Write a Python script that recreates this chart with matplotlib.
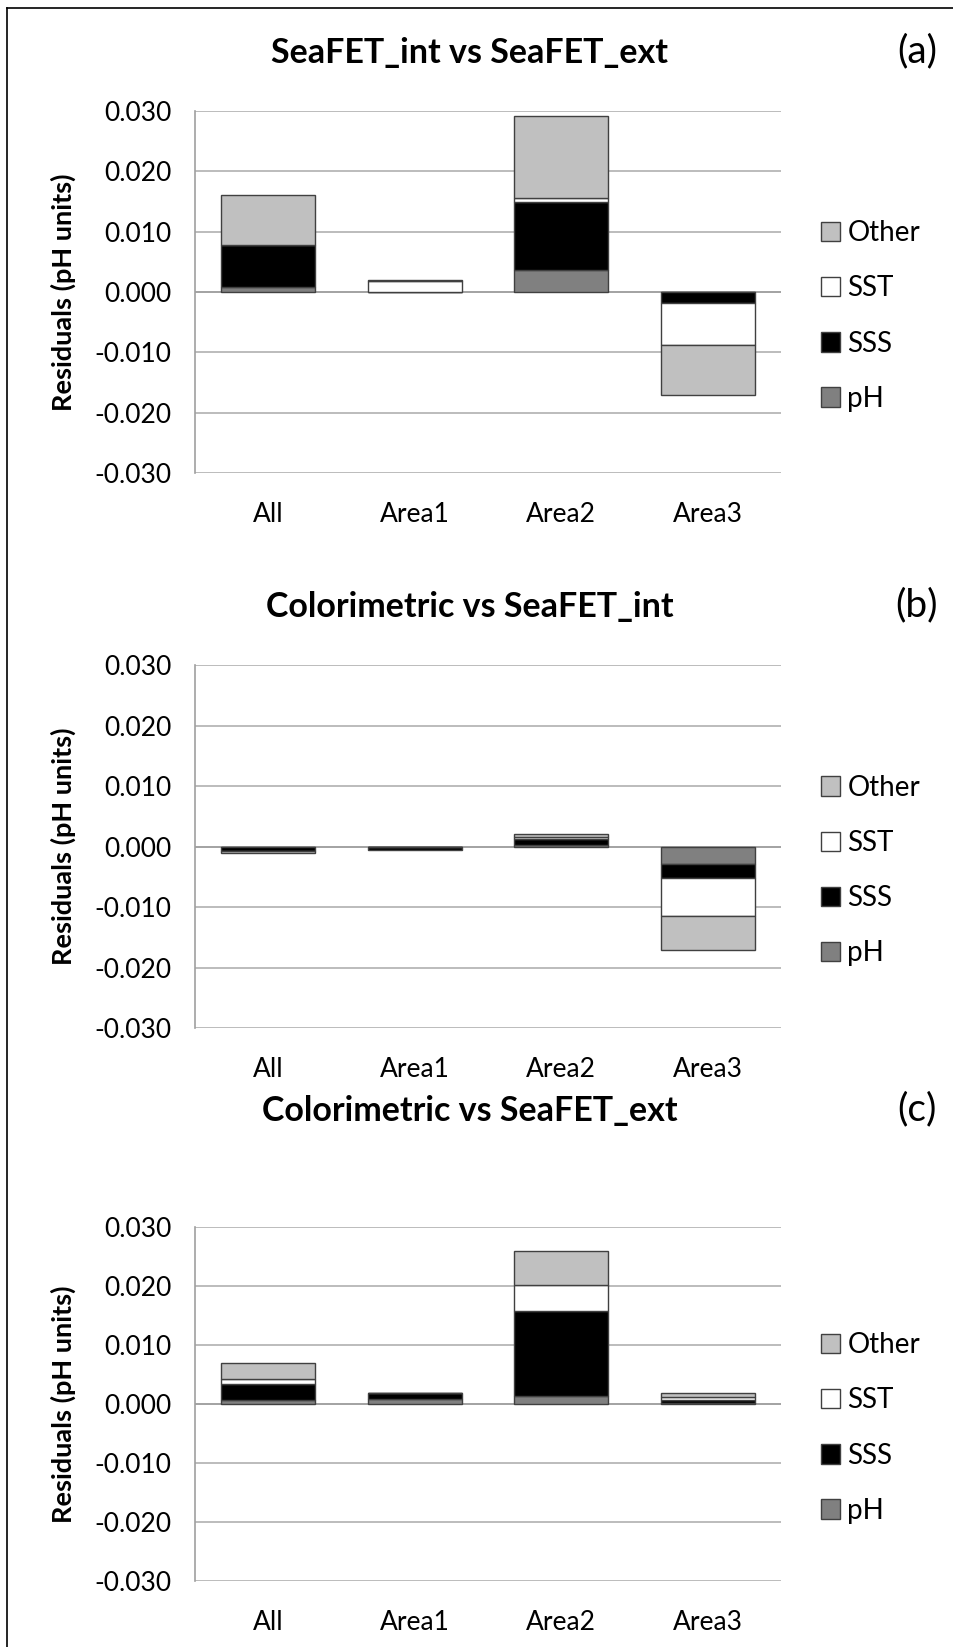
import numpy as np
import matplotlib
matplotlib.use("Agg")
import matplotlib.pyplot as plt
from matplotlib.patches import Patch
from matplotlib.lines import Line2D

plt.rcParams['font.family'] = ['Lato', 'DejaVu Sans']

categorias = ["All", "Area1", "Area2", "Area3"]
series = ["pH", "SSS", "SST", "Other"]
colores = {"pH": "#808080", "SSS": "#000000", "SST": "#ffffff", "Other": "#c0c0c0"}

titulos = ["SeaFET_int vs SeaFET_ext", "Colorimetric vs SeaFET_int", "Colorimetric vs SeaFET_ext"]
etiquetas = ["(a)", "(b)", "(c)"]

# panel (a)
a_pH = [0.0008, 0.0000, 0.0037, 0.0000]
a_SSS = [0.0069, 0.0000, 0.0112, -0.0019]
a_SST = [0.0000, 0.0019, 0.0006, -0.0068]
a_Other = [0.0084, 0.0001, 0.0137, -0.0084]

# panel (b)
b_pH = [-0.0001, -0.0001, 0.0002, -0.0029]
b_SSS = [-0.0006, -0.0004, 0.0011, -0.0022]
b_SST = [-0.0001, 0.0000, 0.0003, -0.0063]
b_Other = [-0.0003, 0.0000, 0.0005, -0.0056]

# panel (c)
c_pH = [0.0007, 0.0008, 0.0013, 0.0001]
c_SSS = [0.0027, 0.0011, 0.0145, 0.0005]
c_SST = [0.0009, 0.0000, 0.0044, 0.0005]
c_Other = [0.0026, 0.0000, 0.0057, 0.0008]

datos = [
    {"pH": a_pH, "SSS": a_SSS, "SST": a_SST, "Other": a_Other},
    {"pH": b_pH, "SSS": b_SSS, "SST": b_SST, "Other": b_Other},
    {"pH": c_pH, "SSS": c_SSS, "SST": c_SST, "Other": c_Other},
]

W, H = 954, 1647
fig = plt.figure(figsize=(W / 100, H / 100), dpi=100)

# marco (solo izquierda y arriba)
fig.add_artist(Line2D([7 / W, 7 / W], [0, 1 - 8 / H], transform=fig.transFigure, color='black', lw=1.2))
fig.add_artist(Line2D([7 / W, 1], [1 - 8 / H, 1 - 8 / H], transform=fig.transFigure, color='black', lw=1.2))

# posiciones en pixeles: (arriba, abajo)
paneles = [(110.7, 473.3), (665, 1028.3), (1226.7, 1581.3)]
titulo_y = [53, 607, 1111]
x0, x1 = 195, 781

for i, (top, bot) in enumerate(paneles):
    ax = fig.add_axes([x0 / W, 1 - bot / H, (x1 - x0) / W, (bot - top) / H])
    x = np.arange(len(categorias))
    pos = np.zeros(len(categorias))
    neg = np.zeros(len(categorias))
    for s in series:
        v = np.array(datos[i][s])
        base = np.where(v >= 0, pos, neg)
        ax.bar(x, v, bottom=base, width=0.64, color=colores[s], edgecolor='#404040',
               linewidth=1.0, zorder=3)
        pos = pos + np.where(v > 0, v, 0)
        neg = neg + np.where(v < 0, v, 0)

    ax.set_xlim(-0.5, 3.5)
    ax.set_ylim(-0.03, 0.03)
    ax.set_yticks(np.arange(-0.03, 0.031, 0.01))
    ax.set_yticklabels([f"{t:.3f}" for t in np.arange(-0.03, 0.031, 0.01)])
    ax.grid(axis='y', color='#b0b0b0', lw=1.2, zorder=0)
    ax.axhline(0, color='#a0a0a0', lw=1.2, zorder=2)
    for sp in ['top', 'right', 'bottom']:
        ax.spines[sp].set_visible(False)
    ax.spines['left'].set_color('#a0a0a0')
    ax.spines['left'].set_linewidth(1.2)
    ax.set_xticks(x)
    ax.set_xticklabels(categorias)
    ax.tick_params(axis='both', length=0, labelsize=19, colors='black')
    ax.tick_params(axis='y', pad=17)
    ax.tick_params(axis='x', pad=21)
    ax.set_ylabel("Residuals (pH units)", fontsize=19.5, fontweight='bold')
    ax.yaxis.set_label_coords((76 - x0) / (x1 - x0), 0.5)

    fig.text(470 / W, 1 - titulo_y[i] / H, titulos[i], fontsize=24.5, fontweight='bold',
             ha='center', va='center')
    fig.text(917 / W, 1 - (titulo_y[i] - 2) / H, etiquetas[i], fontsize=28, ha='center', va='center')

    handles = [Patch(facecolor=colores[s], edgecolor='#404040', label=s) for s in reversed(series)]
    fig.legend(handles=handles, loc='center left',
               bbox_to_anchor=(796 / W, 1 - ((top + bot) / 2 + 24) / H),
               frameon=False, fontsize=20, handlelength=0.7, handleheight=0.7,
               handletextpad=0.25, labelspacing=1.05)

fig.savefig("out.png", dpi=100)
